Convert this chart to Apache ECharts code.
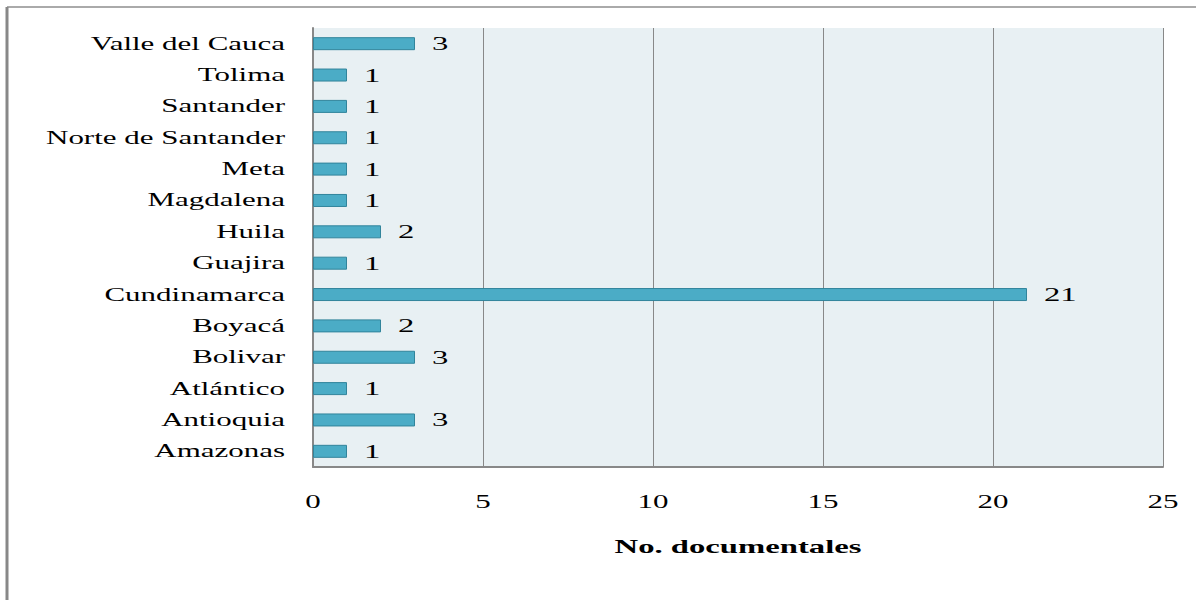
<!DOCTYPE html>
<html>
<head>
<meta charset="utf-8">
<script src="https://cdn.jsdelivr.net/npm/echarts@6/dist/echarts.min.js"></script>
<style>
html,body{margin:0;padding:0;background:#fff}
#c{width:1196px;height:600px}
</style>
</head>
<body>
<div id="c"></div>
<script>
const categories = ['Amazonas','Antioquia','Atlántico','Bolivar','Boyacá','Cundinamarca','Guajira','Huila','Magdalena','Meta','Norte de Santander','Santander','Tolima','Valle del Cauca'];
const values = [1,3,1,3,2,21,1,2,1,1,1,1,1,3];
const xTicks = [0,5,10,15,20,25];
const xTitle = 'No. documentales';

const FONT = '"Liberation Serif", serif';
const chart = echarts.init(document.getElementById('c'), null, { renderer: 'svg' });
chart.setOption({
  animation: false,
  backgroundColor: '#fff',
  grid: { left: 313, right: 33, top: 28, bottom: 133, show: true, borderWidth: 0, backgroundColor: '#e8f0f3' },
  xAxis: {
    type: 'value', min: xTicks[0], max: xTicks[xTicks.length-1], interval: 5,
    name: xTitle, nameLocation: 'middle', nameGap: 70,
    nameTextStyle: { fontFamily: FONT, fontWeight: 'bold', fontSize: 19, color: '#000' },
    axisLine: { show: true, lineStyle: { color: '#888', width: 2 } },
    axisTick: { show: false },
    axisLabel: { fontFamily: FONT, fontSize: 18, color: '#000', margin: 26 },
    splitLine: { show: true, lineStyle: { color: '#888', width: 1 } }
  },
  yAxis: {
    type: 'category', data: categories,
    axisLine: { show: true, lineStyle: { color: '#888', width: 2 } },
    axisTick: { show: false },
    axisLabel: { fontFamily: FONT, fontSize: 18, color: '#000', margin: 28 }
  },
  series: [{
    type: 'bar', data: values, barWidth: 13,
    itemStyle: { color: '#4bacc6', borderColor: '#31849b', borderWidth: 1 },
    label: { show: true, position: 'right', distance: 17, fontFamily: FONT, fontSize: 19, color: '#000' }
  }],
  graphic: [
    { type: 'line', shape: { x1: 7, y1: 7, x2: 1196, y2: 7 }, style: { stroke: '#aaa', lineWidth: 2 } },
    { type: 'line', shape: { x1: 7, y1: 7, x2: 7, y2: 600 }, style: { stroke: '#888', lineWidth: 3 } }
  ]
});
// horizontally stretch glyphs (reference font is a wide, stretched serif)
const STRETCH = 1.72;
document.querySelectorAll('#c svg text').forEach(function (t) {
  try {
    const len = t.getComputedTextLength();
    if (len > 0) {
      t.setAttribute('textLength', (len * STRETCH).toFixed(2));
      t.setAttribute('lengthAdjust', 'spacingAndGlyphs');
    }
  } catch (e) {}
});
</script>
</body>
</html>
